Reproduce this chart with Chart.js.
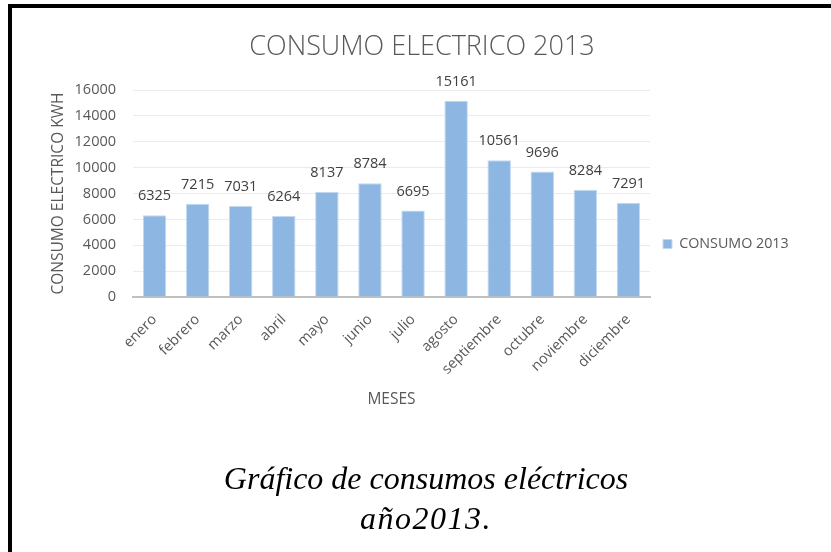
<!DOCTYPE html>
<html><head><meta charset="utf-8">
<script src="https://cdn.jsdelivr.net/npm/chart.js@4.4.1/dist/chart.umd.min.js"></script>
<style>
html,body{margin:0;padding:0;background:#fff;}
body{width:831px;height:552px;position:relative;overflow:hidden;}
#wrap{position:absolute;left:0;top:0;width:831px;height:552px;}
#frameTop{position:absolute;left:8px;top:4px;width:823px;height:4px;background:#000;}
#frameLeft{position:absolute;left:8px;top:4px;width:4px;height:548px;background:#000;}
.cap{position:absolute;left:126px;width:600px;text-align:center;font-family:"Liberation Serif",serif;font-style:italic;font-size:32px;color:#000;line-height:40px;white-space:nowrap;}
</style></head>
<body>
<div id="wrap"><canvas id="c" width="831" height="552"></canvas></div>
<div id="frameTop"></div><div id="frameLeft"></div>
<div class="cap" style="top:458px">Gráfico de consumos eléctricos</div>
<div class="cap" style="top:498px;letter-spacing:1.5px">año2013.</div>
<script>
const months = ['enero','febrero','marzo','abril','mayo','junio','julio','agosto','septiembre','octubre','noviembre','diciembre'];
const consumo = [6325,7215,7031,6264,8137,8784,6695,15161,10561,9696,8284,7291];
const yTicks = [0,2000,4000,6000,8000,10000,12000,14000,16000];
const seriesLabel = 'CONSUMO 2013';
const chartTitle = 'CONSUMO ELECTRICO 2013';
const xTitle = 'MESES';
const yTitle = 'CONSUMO ELECTRICO KWH';

const FONT = '"Open Sans", "Noto Sans", sans-serif';
const W = 831, H = 552;
const plotL = 133, plotR = 650, plotT = 90, plotB = 297;
const legendPad = 13, boxW = 9, legendFs = 14.3;
const mctx = document.createElement('canvas').getContext('2d');
mctx.font = 'normal ' + legendFs + 'px ' + FONT;
const tw = mctx.measureText(seriesLabel).width;
const legendW = legendPad + boxW + legendFs / 2 + tw + 10;
const padR = W - plotR - legendW;
const titleCX = 422;
const padL = 2 * titleCX - W + padR;
const padT = 0;
const legendCY = 244;
const padB = H - 2 * legendCY + padT;
const yAxisW = plotL - padL;
const xAxisH = (H - padB) - plotB;
const titleFs = 27, titleLH = titleFs * 1.2, titleCY = 47;
const titlePadTop = titleCY - titleLH / 2 - padT;
const titlePadBottom = plotT - padT - titlePadTop - titleLH;
const axTitleFs = 15.5, axTitleLH = axTitleFs * 1.2;
const xTitleCY = 400;
const xTitlePadBottom = (H - padB) - xTitleCY - axTitleLH / 2;
const yTitleCX = 59;
const yTitlePadTop = yTitleCX - axTitleLH / 2 - padL;
const tickFs = 14.5;

const valueLabels = {
  id: 'valueLabels',
  afterDatasetsDraw(chart) {
    const ctx = chart.ctx;
    const meta = chart.getDatasetMeta(0);
    const vals = chart.data.datasets[0].data;
    ctx.save();
    ctx.font = 'normal ' + tickFs + 'px ' + FONT;
    ctx.fillStyle = '#404040';
    ctx.textAlign = 'center';
    ctx.textBaseline = 'middle';
    meta.data.forEach((bar, i) => {
      ctx.fillText(String(vals[i]), bar.x, bar.y - 19);
    });
    ctx.restore();
  }
};

new Chart(document.getElementById('c'), {
  type: 'bar',
  data: {
    labels: months,
    datasets: [{
      label: seriesLabel,
      data: consumo,
      backgroundColor: '#8DB7E2',
      borderColor: '#C2D9F0',
      borderWidth: 1,
      barPercentage: 1,
      categoryPercentage: 0.545
    }]
  },
  options: {
    responsive: false,
    animation: false,
    layout: { padding: { left: padL, right: padR, top: padT, bottom: padB } },
    plugins: {
      title: {
        display: true,
        text: chartTitle,
        color: '#595959',
        font: { family: FONT, size: titleFs, weight: '300', lineHeight: 1.2 },
        padding: { top: titlePadTop, bottom: titlePadBottom }
      },
      legend: {
        display: true,
        position: 'right',
        align: 'center',
        labels: {
          boxWidth: boxW, boxHeight: boxW, padding: legendPad,
          color: '#595959',
          font: { family: FONT, size: legendFs }
        }
      },
      tooltip: { enabled: false }
    },
    scales: {
      x: {
        grid: { display: false },
        border: { display: true, color: '#C0C0C0', width: 2 },
        ticks: {
          color: '#595959',
          font: { family: FONT, size: tickFs },
          minRotation: 45, maxRotation: 45,
          autoSkip: false,
          padding: 6
        },
        title: {
          display: true, text: xTitle, color: '#595959',
          font: { family: FONT, size: axTitleFs, lineHeight: 1.2 },
          padding: { top: 0, bottom: xTitlePadBottom }
        },
        afterFit: s => { s.height = xAxisH; }
      },
      y: {
        min: yTicks[0],
        max: yTicks[yTicks.length - 1],
        grid: { color: '#EBEBEB', lineWidth: 1, drawTicks: false },
        border: { display: false },
        ticks: {
          stepSize: yTicks[1] - yTicks[0],
          color: '#595959',
          font: { family: FONT, size: tickFs },
          padding: 17,
          callback: v => String(v)
        },
        title: {
          display: true, text: yTitle, color: '#595959',
          font: { family: FONT, size: axTitleFs, lineHeight: 1.2 },
          padding: { top: yTitlePadTop, bottom: 0 }
        },
        afterFit: s => { s.width = yAxisW; }
      }
    }
  },
  plugins: [valueLabels]
});
</script>
</body></html>
